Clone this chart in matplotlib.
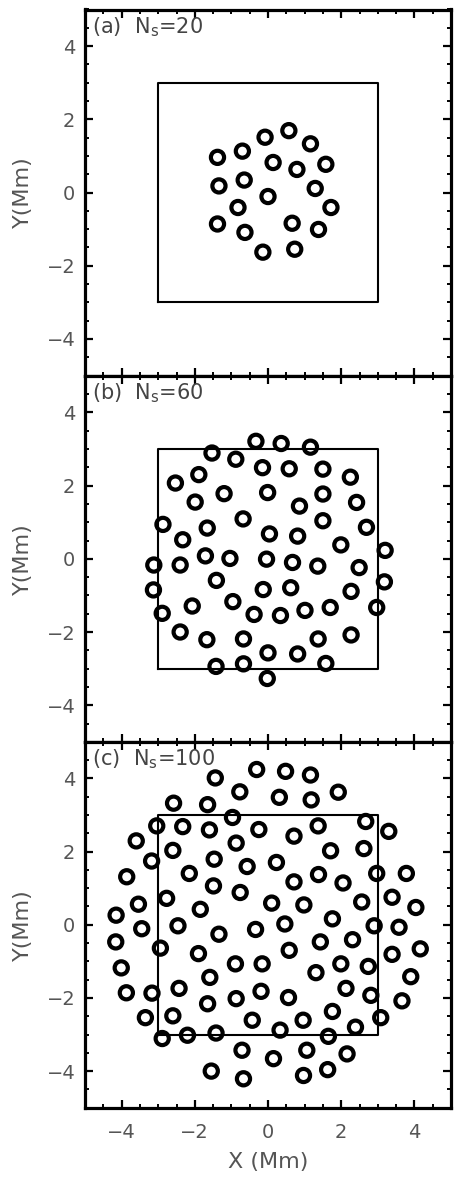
import matplotlib
matplotlib.use("Agg")
import matplotlib.pyplot as plt
from matplotlib.ticker import MultipleLocator

# ---------------- data ----------------
a_x = [-1.38, -0.70, -0.08, 0.57, 1.16, 1.58, 0.14, 0.79, -1.34, -0.65,
       0.00, 1.29, 1.72, -0.82, -1.38, -0.63, 0.66, 1.38, -0.14, 0.73]
a_y = [0.96, 1.13, 1.51, 1.69, 1.33, 0.77, 0.82, 0.63, 0.18, 0.34,
       -0.11, 0.11, -0.41, -0.41, -0.86, -1.09, -0.84, -1.01, -1.63, -1.55]

b_x = [-0.33, 0.36, 1.16, -1.53, -0.88, -0.15, 0.58, 1.50, 2.25, -1.89,
       -2.53, -1.20, -0.01, 1.50, -1.99, 0.86, 2.42, -0.68, 1.50, -2.87,
       -1.66, 2.69, 0.04, 0.81, -2.33, 1.99, 3.20, -3.12, -2.40, -1.71,
       -1.04, -0.04, 0.67, 1.36, 2.49, -3.13, -1.41, -0.13, 0.62, 2.27,
       3.18, -2.89, -2.07, -0.96, -0.38, 0.34, 1.01, 1.70, 2.97, -2.40,
       -1.67, -0.67, 1.37, 2.27, 0.00, 0.81, -1.42, -0.67, 1.58, -0.02]
b_y = [3.21, 3.15, 3.05, 2.89, 2.72, 2.49, 2.46, 2.45, 2.23, 2.30,
       2.07, 1.78, 1.81, 1.77, 1.55, 1.44, 1.54, 1.09, 1.04, 0.94,
       0.84, 0.86, 0.68, 0.62, 0.52, 0.38, 0.23, -0.17, -0.17, 0.08,
       0.01, -0.01, -0.10, -0.20, -0.24, -0.85, -0.59, -0.84, -0.79, -0.89,
       -0.63, -1.49, -1.29, -1.17, -1.52, -1.55, -1.41, -1.33, -1.33, -2.00,
       -2.21, -2.19, -2.19, -2.08, -2.57, -2.60, -2.94, -2.87, -2.86, -3.27]

c_x = [-0.31, 0.48, 1.16, -1.44, -0.77, 1.92, 0.31, 1.18, -2.58, -1.65,
       -0.97, 2.67, -3.04, -2.33, -1.60, -0.25, 1.37, 3.30, 0.71, -0.87,
       -3.60, -2.60, 1.71, 2.62, -3.18, -1.47, 0.23, -0.57, -2.15, -3.86,
       1.38, 2.97, 3.78, 0.71, 2.05, -1.49, -0.76, -2.77, 3.39, -3.54,
       0.10, 0.98, 2.56, 4.04, -1.85, -4.15, 1.76, 0.46, -2.46, 2.90,
       -3.45, -0.34, 3.58, -1.34, -4.16, 1.43, 2.31, -2.94, 0.58, 4.16,
       -1.90, 3.39, -0.89, -0.16, -4.01, 1.99, 2.74, 1.31, 3.90, -1.59,
       -2.43, 2.13, -3.87, -3.17, -0.19, -0.87, 0.56, 2.81, -1.65, 3.66,
       1.76, -2.60, -3.35, -0.43, 0.96, 3.08, 2.39, 0.33, -2.20, -1.42,
       -2.89, 1.65, -0.71, 1.06, 2.16, 0.15, -1.55, 1.63, 0.97, -0.67]
c_y = [4.24, 4.19, 4.09, 4.01, 3.63, 3.62, 3.48, 3.41, 3.32, 3.28,
       2.93, 2.82, 2.70, 2.68, 2.59, 2.60, 2.70, 2.55, 2.42, 2.23,
       2.29, 2.03, 2.02, 2.08, 1.74, 1.79, 1.70, 1.59, 1.40, 1.31,
       1.37, 1.40, 1.40, 1.17, 1.14, 1.06, 0.88, 0.72, 0.75, 0.56,
       0.59, 0.54, 0.62, 0.47, 0.42, 0.26, 0.16, 0.02, -0.03, -0.03,
       -0.11, -0.13, -0.07, -0.26, -0.47, -0.47, -0.41, -0.64, -0.70, -0.66,
       -0.79, -0.81, -1.07, -1.07, -1.18, -1.07, -1.14, -1.31, -1.42, -1.44,
       -1.74, -1.74, -1.86, -1.87, -1.82, -2.02, -1.99, -1.93, -2.16, -2.08,
       -2.37, -2.49, -2.54, -2.61, -2.61, -2.54, -2.80, -2.88, -3.02, -2.96,
       -3.11, -3.05, -3.43, -3.43, -3.53, -3.66, -4.00, -3.96, -4.12, -4.21]

panel_labels = ["(a)", "(b)", "(c)"]
ns_values = [20, 60, 100]
box_x = [-3, 3, 3, -3, -3]
box_y = [-3, -3, 3, 3, -3]
ticks = [-4, -2, 0, 2, 4]

# ---------------- figure ----------------
W, H = 471, 1180
fig = plt.figure(figsize=(W / 100, H / 100), dpi=100)
txt = "#555555"

left = 85 / W
width = 366 / W
ph = 366 / H
bottoms = [1 - 375.5 / H, 1 - 741.8 / H, 1 - 1107.7 / H]

datasets = [(a_x, a_y), (b_x, b_y), (c_x, c_y)]

for i, ((xs, ys), lab, ns, bot) in enumerate(zip(datasets, panel_labels, ns_values, bottoms)):
    ax = fig.add_axes([left, bot, width, ph])
    ax.set_xlim(-5, 5)
    ax.set_ylim(-5, 5)
    ax.plot(box_x, box_y, color="black", lw=1.5, zorder=2)
    ax.scatter(xs, ys, s=90, facecolors="none", edgecolors="black",
               linewidths=3.0, zorder=3)
    for sp in ax.spines.values():
        sp.set_linewidth(2.3)
    ax.set_xticks(ticks)
    ax.set_yticks(ticks)
    ax.xaxis.set_minor_locator(MultipleLocator(0.5))
    ax.yaxis.set_minor_locator(MultipleLocator(0.5))
    ax.tick_params(which="both", direction="in", top=True, right=True,
                   colors="black", labelcolor=txt, labelsize=14)
    ax.tick_params(which="major", length=5.5, width=1.6)
    ax.tick_params(which="minor", length=3, width=1.4)
    ax.tick_params(axis="y", pad=7)
    ax.tick_params(axis="x", pad=11)
    if i < 2:
        ax.tick_params(axis="x", labelbottom=False)
    else:
        ax.set_xlabel("X (Mm)", fontsize=16, color=txt)
        ax.xaxis.set_label_coords(0.5, -0.122)
    ax.set_ylabel("Y(Mm)", fontsize=16, color=txt)
    ax.yaxis.set_label_coords(-0.142, 0.5)
    ax.text(0.02, 0.952, f"{lab}  N$_\\mathregular{{s}}$={ns}", transform=ax.transAxes,
            fontsize=15, color="#444444", ha="left", va="center")

fig.savefig("out.png", dpi=100)
